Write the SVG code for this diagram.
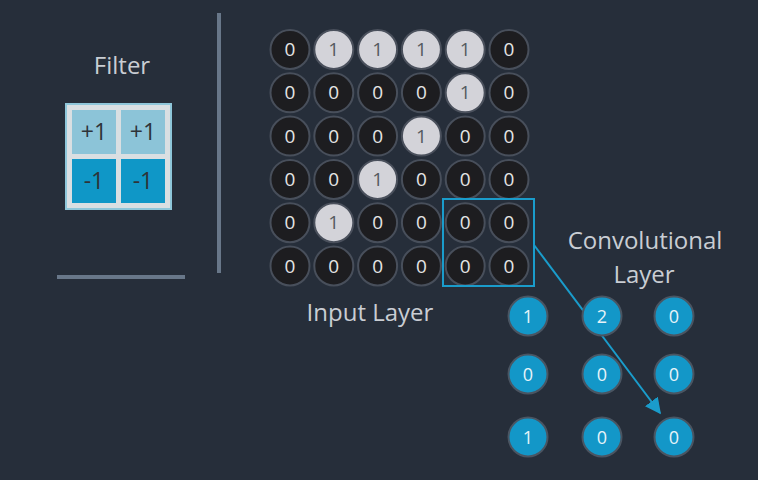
<svg xmlns="http://www.w3.org/2000/svg" width="758" height="480" viewBox="0 0 758 480">
<defs>
<style>
.lbl{font-family:"Open Sans","Liberation Sans",sans-serif;font-size:24px;fill:#c9cdd3;text-anchor:middle}
.num{font-family:"Open Sans","Liberation Sans",sans-serif;font-size:19px;text-anchor:middle}
.d circle{fill:#1d1d20;stroke:#484f5b;stroke-width:2}
.d text{fill:#e4e4e4}
.l circle{fill:#d3d3d9;stroke:#4a505c;stroke-width:2}
.l text{fill:#555a60}
.c circle{fill:#1397c8;stroke:#4a5562;stroke-width:2}
.c text{fill:#e6f3f9;font-size:18px}
.fc text{fill:#2e3338;font-family:"Open Sans","Liberation Sans",sans-serif;font-size:23px;text-anchor:middle}
.sep{stroke:#687789;stroke-width:4}
</style>
<marker id="ah" viewBox="0 0 10 10" refX="9" refY="5" markerWidth="16" markerHeight="16" markerUnits="userSpaceOnUse" orient="auto">
<path d="M0,0 L10,5 L0,10 z" fill="#1a9ccb"/>
</marker>
</defs>
<rect width="758" height="480" fill="#262e3a"/>

<g id="separators">
<line class="sep" x1="219" y1="13" x2="219" y2="273"/>
<line class="sep" x1="57" y1="277" x2="185" y2="277"/>
</g>

<g id="filter">
<text class="lbl" x="122" y="74">Filter</text>
<rect x="66" y="104" width="105" height="105" fill="#d9dfe2" stroke="#8ec6d9" stroke-width="2"/>
<g class="fc">
<rect x="72" y="110" width="44" height="44" fill="#8cc4d8"/>
<rect x="121" y="110" width="44" height="44" fill="#8cc4d8"/>
<rect x="72" y="159" width="44" height="44" fill="#0f97c7"/>
<rect x="121" y="159" width="44" height="44" fill="#0f97c7"/>
<text x="94" y="140">+1</text>
<text x="143" y="140">+1</text>
<text x="94" y="189">-1</text>
<text x="143" y="189">-1</text>
</g>
</g>

<g id="input-layer" class="num">
<g class="d"><circle cx="290" cy="49.5" r="19.5"/><text x="290" y="56">0</text></g>
<g class="l"><circle cx="333.8" cy="49.5" r="19.5"/><text x="333.8" y="56">1</text></g>
<g class="l"><circle cx="377.6" cy="49.5" r="19.5"/><text x="377.6" y="56">1</text></g>
<g class="l"><circle cx="421.4" cy="49.5" r="19.5"/><text x="421.4" y="56">1</text></g>
<g class="l"><circle cx="465.2" cy="49.5" r="19.5"/><text x="465.2" y="56">1</text></g>
<g class="d"><circle cx="509" cy="49.5" r="19.5"/><text x="509" y="56">0</text></g>

<g class="d"><circle cx="290" cy="92.8" r="19.5"/><text x="290" y="99.3">0</text></g>
<g class="d"><circle cx="333.8" cy="92.8" r="19.5"/><text x="333.8" y="99.3">0</text></g>
<g class="d"><circle cx="377.6" cy="92.8" r="19.5"/><text x="377.6" y="99.3">0</text></g>
<g class="d"><circle cx="421.4" cy="92.8" r="19.5"/><text x="421.4" y="99.3">0</text></g>
<g class="l"><circle cx="465.2" cy="92.8" r="19.5"/><text x="465.2" y="99.3">1</text></g>
<g class="d"><circle cx="509" cy="92.8" r="19.5"/><text x="509" y="99.3">0</text></g>

<g class="d"><circle cx="290" cy="136.1" r="19.5"/><text x="290" y="142.6">0</text></g>
<g class="d"><circle cx="333.8" cy="136.1" r="19.5"/><text x="333.8" y="142.6">0</text></g>
<g class="d"><circle cx="377.6" cy="136.1" r="19.5"/><text x="377.6" y="142.6">0</text></g>
<g class="l"><circle cx="421.4" cy="136.1" r="19.5"/><text x="421.4" y="142.6">1</text></g>
<g class="d"><circle cx="465.2" cy="136.1" r="19.5"/><text x="465.2" y="142.6">0</text></g>
<g class="d"><circle cx="509" cy="136.1" r="19.5"/><text x="509" y="142.6">0</text></g>

<g class="d"><circle cx="290" cy="179.4" r="19.5"/><text x="290" y="185.9">0</text></g>
<g class="d"><circle cx="333.8" cy="179.4" r="19.5"/><text x="333.8" y="185.9">0</text></g>
<g class="l"><circle cx="377.6" cy="179.4" r="19.5"/><text x="377.6" y="185.9">1</text></g>
<g class="d"><circle cx="421.4" cy="179.4" r="19.5"/><text x="421.4" y="185.9">0</text></g>
<g class="d"><circle cx="465.2" cy="179.4" r="19.5"/><text x="465.2" y="185.9">0</text></g>
<g class="d"><circle cx="509" cy="179.4" r="19.5"/><text x="509" y="185.9">0</text></g>

<g class="d"><circle cx="290" cy="222.7" r="19.5"/><text x="290" y="229.2">0</text></g>
<g class="l"><circle cx="333.8" cy="222.7" r="19.5"/><text x="333.8" y="229.2">1</text></g>
<g class="d"><circle cx="377.6" cy="222.7" r="19.5"/><text x="377.6" y="229.2">0</text></g>
<g class="d"><circle cx="421.4" cy="222.7" r="19.5"/><text x="421.4" y="229.2">0</text></g>
<g class="d"><circle cx="465.2" cy="222.7" r="19.5"/><text x="465.2" y="229.2">0</text></g>
<g class="d"><circle cx="509" cy="222.7" r="19.5"/><text x="509" y="229.2">0</text></g>

<g class="d"><circle cx="290" cy="266" r="19.5"/><text x="290" y="272.5">0</text></g>
<g class="d"><circle cx="333.8" cy="266" r="19.5"/><text x="333.8" y="272.5">0</text></g>
<g class="d"><circle cx="377.6" cy="266" r="19.5"/><text x="377.6" y="272.5">0</text></g>
<g class="d"><circle cx="421.4" cy="266" r="19.5"/><text x="421.4" y="272.5">0</text></g>
<g class="d"><circle cx="465.2" cy="266" r="19.5"/><text x="465.2" y="272.5">0</text></g>
<g class="d"><circle cx="509" cy="266" r="19.5"/><text x="509" y="272.5">0</text></g>
</g>
<text class="lbl" x="370" y="321">Input Layer</text>

<g id="window">
<rect x="443" y="199" width="91" height="87" fill="none" stroke="#1a9ccb" stroke-width="2"/>
</g>

<g id="connectors">
<line x1="534" y1="245" x2="660" y2="413" stroke="#1a9ccb" stroke-width="2" marker-end="url(#ah)"/>
</g>

<g id="conv-label">
<text class="lbl" x="645" y="249">Convolutional</text>
<text class="lbl" x="644" y="283">Layer</text>
</g>

<g id="conv-layer" class="num">
<g class="c"><circle cx="528" cy="316" r="19.5"/><text x="528" y="322.5">1</text></g>
<g class="c"><circle cx="602" cy="316" r="19.5"/><text x="602" y="322.5">2</text></g>
<g class="c"><circle cx="674" cy="316" r="19.5"/><text x="674" y="322.5">0</text></g>
<g class="c"><circle cx="528" cy="374" r="19.5"/><text x="528" y="380.5">0</text></g>
<g class="c"><circle cx="602" cy="374" r="19.5"/><text x="602" y="380.5">0</text></g>
<g class="c"><circle cx="674" cy="374" r="19.5"/><text x="674" y="380.5">0</text></g>
<g class="c"><circle cx="528" cy="437" r="19.5"/><text x="528" y="443.5">1</text></g>
<g class="c"><circle cx="602" cy="437" r="19.5"/><text x="602" y="443.5">0</text></g>
<g class="c"><circle cx="674" cy="437" r="19.5"/><text x="674" y="443.5">0</text></g>
</g>
</svg>
